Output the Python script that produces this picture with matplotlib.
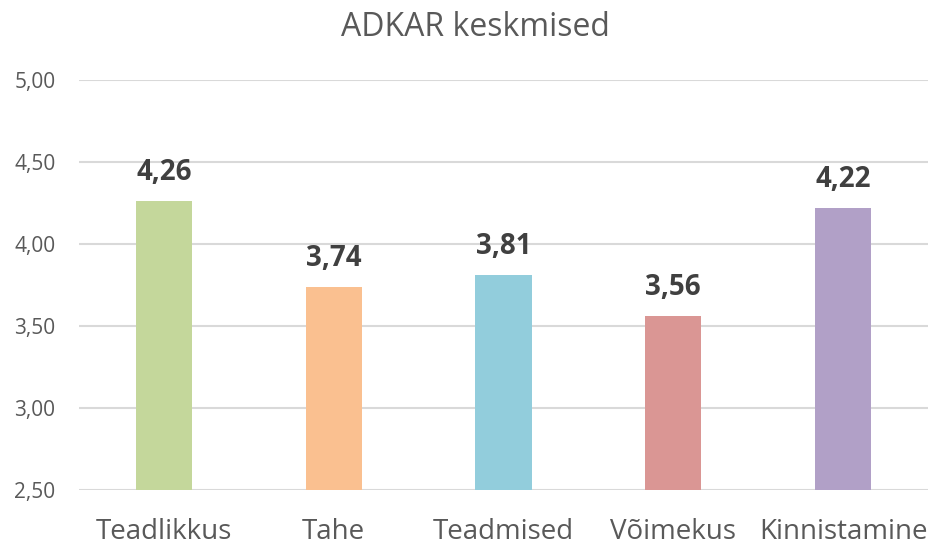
import numpy as np
import matplotlib.pyplot as plt

categories = ["Teadlikkus", "Tahe", "Teadmised", "Võimekus", "Kinnistamine"]
values = [4.26, 3.74, 3.81, 3.56, 4.22]
colors = ["#C4D79B", "#FAC090", "#92CDDC", "#DA9694", "#B1A0C7"]
yticks = [2.5, 3.0, 3.5, 4.0, 4.5, 5.0]

plt.rcParams['font.family'] = ['Open Sans', 'DejaVu Sans']

fig = plt.figure(figsize=(9.33, 5.46), dpi=100)
ax = fig.add_axes([0.0847, 0.1026, 0.9099, 0.7509])

x = np.arange(len(categories))
bars = ax.bar(x, values, width=0.33, color=colors, zorder=3)

for xi, v in zip(x, values):
    ax.annotate(f"{v:.2f}".replace(".", ","), (xi, v), xytext=(0, 10),
                textcoords="offset points", ha="center", va="bottom",
                fontsize=20, fontweight="bold", color="#404040")

ax.set_xlim(-0.5, len(categories) - 0.5)
ax.set_ylim(2.5, 5.0)
ax.set_yticks(yticks)
ax.set_yticklabels([f"{t:.2f}".replace(".", ",") for t in yticks])
ax.set_xticks(x)
ax.set_xticklabels(categories)
ax.tick_params(axis="y", length=0, pad=17, labelsize=15, labelcolor="#595959")
ax.tick_params(axis="x", length=0, pad=20, labelsize=20, labelcolor="#595959")
ax.grid(axis="y", color="#D9D9D9", linewidth=1.5, zorder=0)
for s in ax.spines.values():
    s.set_visible(False)

fig.text(0.51, 0.95, "ADKAR keskmised", ha="center", va="center",
         fontsize=23, color="#595959")

fig.savefig("out.png", dpi=100)
